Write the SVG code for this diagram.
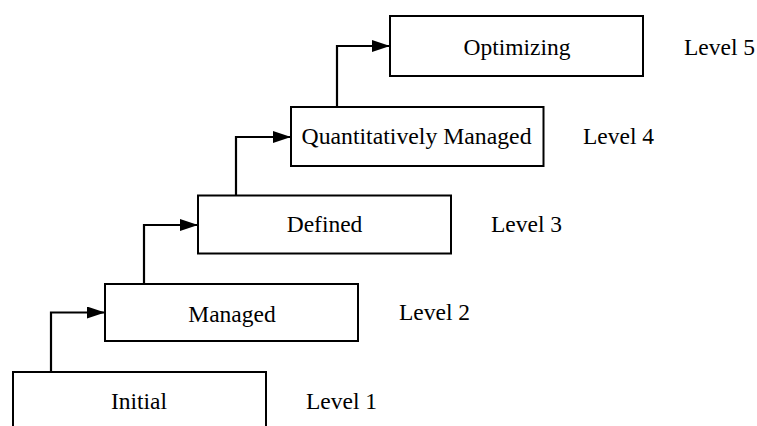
<svg xmlns="http://www.w3.org/2000/svg" width="757" height="426" viewBox="0 0 757 426">
<style>
.box{fill:#fff;stroke:#000;stroke-width:2}
.lbl{font-family:"Liberation Serif","Times New Roman",serif;font-size:23.5px;fill:#000}
.c{text-anchor:middle}
.conn{fill:none;stroke:#000;stroke-width:2.2}
</style>
<defs>
<marker id="arr" viewBox="0 0 18 12" refX="18" refY="6" markerWidth="18" markerHeight="12" markerUnits="userSpaceOnUse" orient="auto">
<path d="M0,0 L18,6 L0,12 z" fill="#000"/>
</marker>
</defs>
<rect width="757" height="426" fill="#fff"/>
<g id="connectors">
<path class="conn" d="M51,372 V312.5 H105" marker-end="url(#arr)"/>
<path class="conn" d="M144,284 V225 H198" marker-end="url(#arr)"/>
<path class="conn" d="M236,195 V137 H291" marker-end="url(#arr)"/>
<path class="conn" d="M337,107 V46 H390" marker-end="url(#arr)"/>
</g>
<g id="initial">
<rect class="box" x="13" y="372" width="253" height="62"/>
<text class="lbl c" x="139" y="409">Initial</text>
</g>
<g id="managed">
<rect class="box" x="105" y="284" width="253" height="57"/>
<text class="lbl c" x="232" y="321.5">Managed</text>
</g>
<g id="defined">
<rect class="box" x="198" y="195.5" width="253" height="58"/>
<text class="lbl c" x="324.5" y="231.5">Defined</text>
</g>
<g id="quantitatively-managed">
<rect class="box" x="291" y="107" width="252.5" height="59"/>
<text class="lbl c" x="416.5" y="144" textLength="230" lengthAdjust="spacingAndGlyphs">Quantitatively Managed</text>
</g>
<g id="optimizing">
<rect class="box" x="390" y="16" width="253" height="60"/>
<text class="lbl c" x="517" y="55">Optimizing</text>
</g>
<g id="levels">
<text class="lbl" x="306" y="409">Level 1</text>
<text class="lbl" x="399" y="319.5">Level 2</text>
<text class="lbl" x="491" y="231.5">Level 3</text>
<text class="lbl" x="583" y="144">Level 4</text>
<text class="lbl" x="684" y="55">Level 5</text>
</g>
</svg>
